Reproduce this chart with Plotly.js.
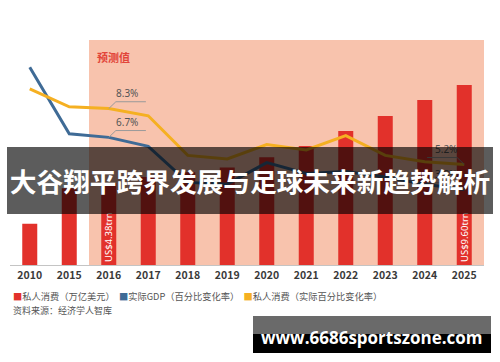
<!DOCTYPE html>
<html><head><meta charset="utf-8">
<script src="https://cdn.plot.ly/plotly-3.0.1.min.js"></script>
<style>html,body{margin:0;padding:0;background:#fff;}#chart{width:500px;height:362px;}</style>
</head><body><div id="chart"></div>
<script>
// ---- data ----
const years = ['2010','2015','2016','2017','2018','2019','2020','2021','2022','2023','2024','2025'];
const consumption = [2.2, 4.1, 4.38, 4.7, 4.95, 5.2, 5.75, 6.35, 7.15, 7.95, 8.8, 9.6];      // 万亿美元
const gdpGrowth = [10.6, 6.9, 6.7, 6.2, 4.2, 4.1, 5.3, 4.7, 4.8, 4.5, 4.1, 3.8];             // %
const consumptionGrowth = [9.4, 8.4, 8.3, 7.9, 5.7, 5.5, 6.3, 6.0, 6.8, 5.7, 5.35, 5.2];    // %
const barText = ['', '', 'US$4.38trn', '', '', '', '', '', '', '', '', 'US$9.60trn'];
const legendLabels = ['私人消费（万亿美元）', '实际GDP（百分比变化率）', '私人消费（实际百分比变化率）'];
const callouts = [
  {series: 'consumptionGrowth', year: '2016', label: '8.3%'},
  {series: 'gdpGrowth', year: '2016', label: '6.7%'},
  {series: 'consumptionGrowth', year: '2025', label: '5.2%'},
  {series: 'gdpGrowth', year: '2025', label: '3.8%'}
];
const forecastStart = '2016';
const forecastLabel = '预测值';
const titleText = '大谷翔平跨界发展与足球未来新趋势解析';
const sourceText = '资料来源：经济学人智库';
const watermarkText = 'www.6686sportszone.com';

// ---- styles ----
const RED = '#e2312b', BLUE = '#3f6b96', YELLOW = '#f5b022', PINK = '#f8c3ad';
const CJK = '"Noto Sans CJK SC", "Noto Sans", sans-serif';
const W = 500, H = 362, ML = 10, MR = 16, MT = 40, MB = 97;
const PW = W - ML - MR, PH = H - MT - MB;
const px = x => (x - ML) / PW;
const py = y => (H - MB - y) / PH;

const seriesMap = {gdpGrowth, consumptionGrowth};

const traces = [
  {type: 'bar', x: years, y: consumption, marker: {color: RED}, text: barText,
   textposition: 'inside', insidetextanchor: 'start', textangle: -90,
   textfont: {family: '"Noto Sans", sans-serif', size: 9.5, color: '#ffffff'},
   cliponaxis: false, showlegend: false},
  {type: 'scatter', mode: 'lines', x: years, y: gdpGrowth, yaxis: 'y2',
   line: {color: BLUE, width: 3}, showlegend: false},
  {type: 'scatter', mode: 'lines', x: years, y: consumptionGrowth, yaxis: 'y2',
   line: {color: YELLOW, width: 3}, showlegend: false}
];

const shapes = [];
const annotations = [];
const fStart = years.indexOf(forecastStart) - 0.5;
shapes.push({type: 'rect', layer: 'below', xref: 'x', yref: 'paper', x0: fStart, x1: years.length - 0.5,
  y0: 0, y1: 1, fillcolor: PINK, line: {width: 0}});

annotations.push({xref: 'x', yref: 'paper', x: fStart, y: py(57), xshift: 6, xanchor: 'left', yanchor: 'middle',
  text: '<b>' + forecastLabel + '</b>', showarrow: false, font: {family: CJK, size: 11, color: '#e2453a'}});

// callouts with elbow leader lines
callouts.forEach(c => {
  const i = years.indexOf(c.year);
  const v = seriesMap[c.series][i];
  const dir = i === years.length - 1 ? -1 : 1;
  const ex = i + dir * 0.18, ey = v + 0.38;
  const hx = i + dir * 0.94;
  const lc = {color: '#9a9a9a', width: 1};
  shapes.push({type: 'line', xref: 'x', yref: 'y2', x0: i, y0: v, x1: ex, y1: ey, line: lc, layer: 'above'});
  shapes.push({type: 'line', xref: 'x', yref: 'y2', x0: ex, y0: ey, x1: hx, y1: ey, line: lc, layer: 'above'});
  annotations.push({xref: 'x', yref: 'y2', x: (ex + hx) / 2 - dir * 0.1, y: ey, yanchor: 'bottom', yshift: 0,
    text: c.label, showarrow: false, font: {family: '"Noto Sans", sans-serif', size: 10, color: '#555'}});
});

// legend as text
const legColors = [RED, BLUE, YELLOW];
const legHtml = legendLabels.map((l, k) => '<span style="color:' + legColors[k] + '">■</span>' + l).join('  ');
annotations.push({xref: 'paper', yref: 'paper', x: px(11), y: py(296), xanchor: 'left', yanchor: 'middle',
  text: legHtml, showarrow: false, font: {family: CJK, size: 9.25, color: '#555'}});
annotations.push({xref: 'paper', yref: 'paper', x: px(11), y: py(310), xanchor: 'left', yanchor: 'middle',
  text: sourceText, showarrow: false, font: {family: CJK, size: 9, color: '#555'}});

// title band (drawn last so it covers labels)
annotations.push({xref: 'paper', yref: 'paper', x: px(250), y: py(180.5), xanchor: 'center', yanchor: 'middle',
  width: 486, height: 67, bgcolor: 'rgba(0,0,0,0.64)', borderpad: 0, borderwidth: 0,
  text: '<b>' + titleText + '</b>', showarrow: false, font: {family: CJK, size: 26.7, color: '#ffffff'}});

// watermark
shapes.push({type: 'rect', xref: 'paper', yref: 'paper', x0: px(253), x1: px(491), y0: py(334), y1: py(316),
  fillcolor: '#6a6a6a', line: {width: 0}, layer: 'above'});
shapes.push({type: 'rect', xref: 'paper', yref: 'paper', x0: px(253), x1: px(491), y0: py(353), y1: py(334),
  fillcolor: '#000000', line: {width: 0}, layer: 'above'});
annotations.push({xref: 'paper', yref: 'paper', x: px(372), y: py(337), xanchor: 'center', yanchor: 'middle',
  text: '<b>' + watermarkText + '</b>', showarrow: false, font: {family: '"Open Sans", sans-serif', size: 17, color: '#ffffff'}});

const layout = {
  width: W, height: H, margin: {l: ML, r: MR, t: MT, b: MB},
  paper_bgcolor: '#ffffff', plot_bgcolor: '#ffffff',
  bargap: 0.62, showlegend: false,
  uniformtext: {minsize: 9.5, mode: 'show'},
  xaxis: {type: 'category', categoryorder: 'array', categoryarray: years, range: [-0.5, years.length - 0.5],
    showline: true, linecolor: '#c4c4c4', linewidth: 1, ticks: '', showgrid: false, zeroline: false,
    tickfont: {family: CJK, size: 10.5, color: '#3a3a3a', weight: 'bold'}},
  yaxis: {range: [0, 12], visible: false, showgrid: false, zeroline: false},
  yaxis2: {overlaying: 'y', range: [-0.39, 12.11], visible: false, showgrid: false, zeroline: false},
  shapes, annotations
};
Plotly.newPlot('chart', traces, layout, {staticPlot: true, displayModeBar: false});
</script></body></html>
